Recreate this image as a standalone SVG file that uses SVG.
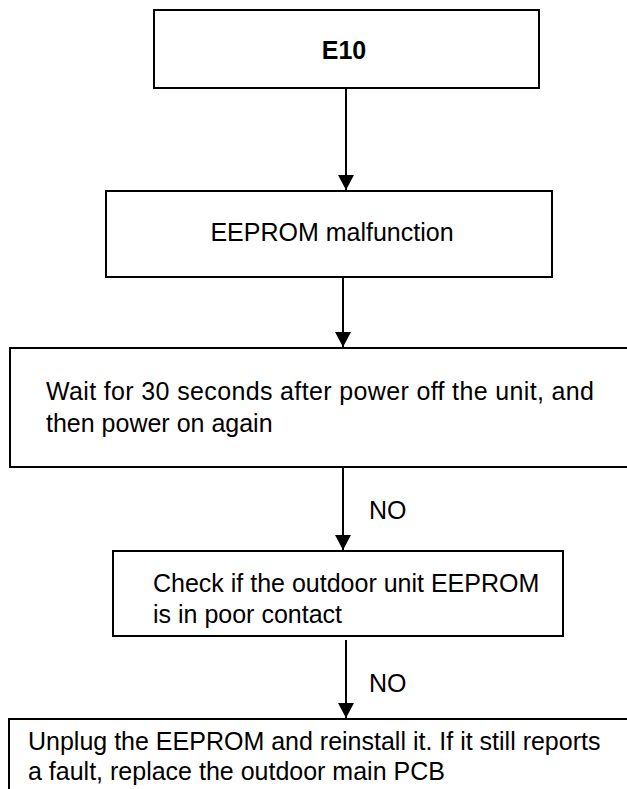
<svg xmlns="http://www.w3.org/2000/svg" width="627" height="789" viewBox="0 0 627 789">
<defs>
<style>
.box{fill:#fff;stroke:#000;stroke-width:2}
.t{font-family:"Liberation Sans",Arial,sans-serif;font-size:25px;fill:#000}
.b{font-weight:bold}
.c{stroke:#000;stroke-width:2;fill:none;marker-end:url(#ah)}
</style>
<marker id="ah" markerUnits="userSpaceOnUse" markerWidth="16" markerHeight="16" refX="15" refY="8" orient="auto">
<path d="M0,0 L15,8 L0,16 z" fill="#000"/>
</marker>
</defs>
<rect width="627" height="789" fill="#fff"/>
<g id="connectors">
<line class="c" x1="346" y1="89" x2="346" y2="190"/>
<line class="c" x1="343" y1="278" x2="343" y2="347"/>
<line class="c" x1="343" y1="468" x2="343" y2="550"/>
<text class="t" x="369" y="519">NO</text>
<line class="c" x1="346" y1="640" x2="346" y2="718"/>
<text class="t" x="369" y="692">NO</text>
</g>
<g id="n1">
<rect class="box" x="154" y="10" width="385" height="78"/>
<text class="t b" x="344" y="59" text-anchor="middle">E10</text>
</g>
<g id="n2">
<rect class="box" x="106" y="191" width="446" height="86"/>
<text class="t" x="332" y="241" text-anchor="middle">EEPROM malfunction</text>
</g>
<g id="n3">
<rect class="box" x="10" y="348" width="630" height="119"/>
<text class="t" x="46" y="400" textLength="548">Wait for 30 seconds after power off the unit, and</text>
<text class="t" x="46" y="432">then power on again</text>
</g>
<g id="n4">
<rect class="box" x="113" y="551" width="450" height="85"/>
<text class="t" x="153" y="592">Check if the outdoor unit EEPROM</text>
<text class="t" x="153" y="623">is in poor contact</text>
</g>
<g id="n5">
<rect class="box" x="9" y="719" width="630" height="100"/>
<text class="t" x="28" y="750">Unplug the EEPROM and reinstall it. If it still reports</text>
<text class="t" x="28" y="780">a fault, replace the outdoor main PCB</text>
</g>
</svg>
